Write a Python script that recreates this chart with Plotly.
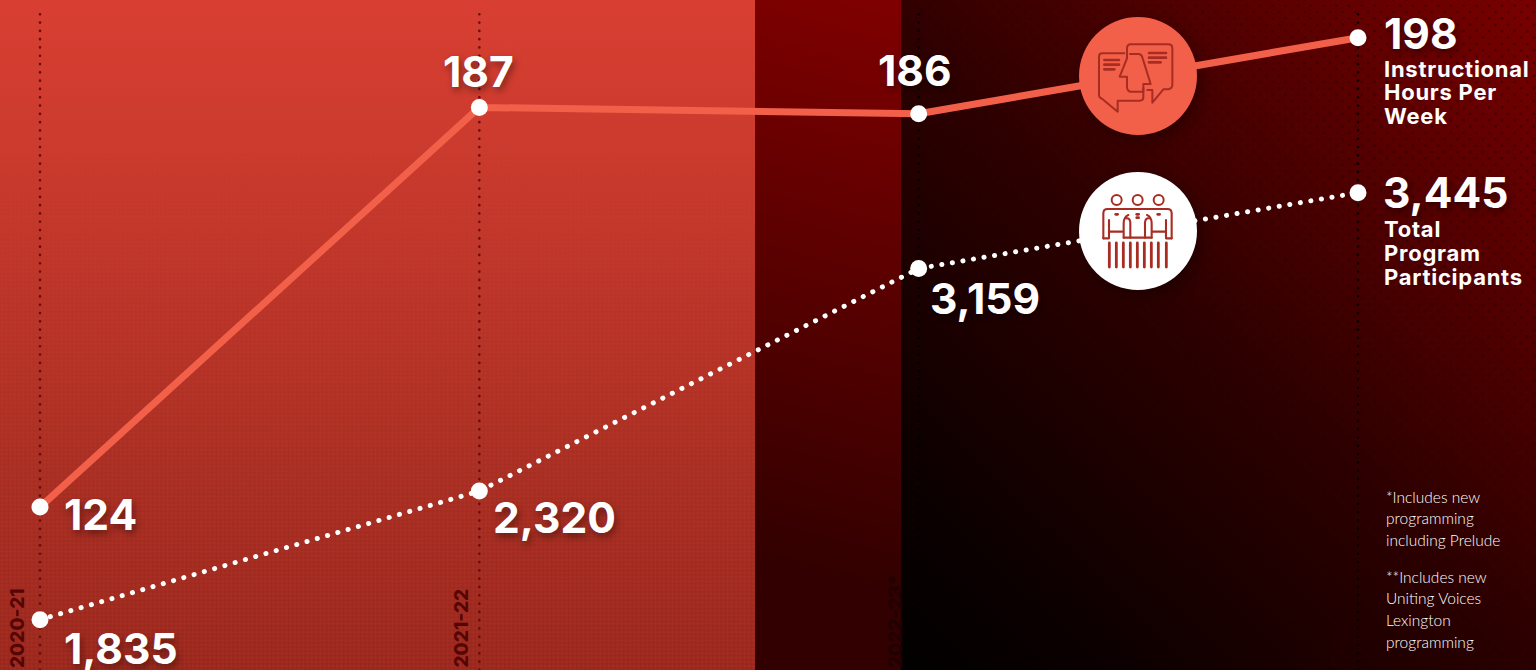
import base64
import plotly.graph_objects as go

# ---- data ----
years = ["2020-21", "2021-22", "2022-23*", "2023-24"]
hours = [124, 187, 186, 198]
participants = [1835, 2320, 3159, 3445]
hours_text = ["124", "187", "186", "198"]
participants_text = ["1,835", "2,320", "3,159", "3,445"]
hours_caption = ["Instructional", "Hours Per", "Week"]
participants_caption = ["Total", "Program", "Participants"]
note_a = ["*Includes new", "programming", "including Prelude"]
note_b = ["**Includes new", "Uniting Voices", "Lexington", "programming"]

W, H = 1536, 670
FONT = "Inter"
LINE = "#F2604A"
ICON = "#A82C22"


def px(x):
    return x / W


def py(y):
    return 1 - y / H


def path(cmds, ox, oy):
    """Icon outlines: 3x-zoom units around an origin -> paper coords."""
    out = []
    for t in cmds.split():
        if t[0].isalpha():
            out.append(t[0])
            t = t[1:]
            if not t:
                continue
        a, b = t.split(",")
        out.append(f"{px(ox + float(a) / 3):.5f},{py(oy + float(b) / 3):.5f}")
    return " ".join(out)


bg = f"""<svg xmlns='http://www.w3.org/2000/svg' width='{W}' height='{H}' viewBox='0 0 {W} {H}'>
<defs>
<linearGradient id='l' x1='0' y1='0' x2='0' y2='1'><stop offset='0' stop-color='#D83F32'/><stop offset='.7' stop-color='#AF3125'/><stop offset='1' stop-color='#A32B20'/></linearGradient>
<linearGradient id='m' gradientUnits='userSpaceOnUse' x1='755' y1='560' x2='900' y2='0'><stop offset='0' stop-color='#320000'/><stop offset='1' stop-color='#800000'/></linearGradient>
<linearGradient id='r' gradientUnits='userSpaceOnUse' x1='901' y1='670' x2='1536' y2='0'><stop offset='0' stop-color='#020000'/><stop offset='.15' stop-color='#0B0000'/><stop offset='.5' stop-color='#2E0000'/><stop offset='1' stop-color='#7A0000'/></linearGradient>
<linearGradient id='f' x1='0' y1='1' x2='1' y2='0'><stop offset='.3' stop-color='#fff' stop-opacity='0'/><stop offset='1' stop-color='#fff' stop-opacity='1'/></linearGradient>
<linearGradient id='f2' x1='0' y1='0' x2='0' y2='1'><stop offset='.2' stop-color='#fff' stop-opacity='0'/><stop offset='1' stop-color='#fff' stop-opacity='1'/></linearGradient>
<mask id='mr'><rect x='901' y='0' width='635' height='670' fill='url(#f)'/></mask>
<mask id='ml'><rect x='0' y='0' width='755' height='670' fill='url(#f2)'/></mask>
<pattern id='dots' width='9' height='9' patternUnits='userSpaceOnUse' patternTransform='rotate(45)'><circle cx='4' cy='4' r='1.3' fill='#000' fill-opacity='.4'/></pattern>
<pattern id='hatch' width='6' height='6' patternUnits='userSpaceOnUse' patternTransform='rotate(45)'><rect width='3' height='3' fill='#000' fill-opacity='.07'/><rect x='3' y='3' width='3' height='3' fill='#000' fill-opacity='.07'/></pattern>
<filter id='b' x='-30%' y='-30%' width='160%' height='160%'><feGaussianBlur stdDeviation='8'/></filter>
</defs>
<rect x='0' y='0' width='756' height='670' fill='url(#l)'/>
<rect x='755' y='0' width='147' height='670' fill='url(#m)'/>
<rect x='901' y='0' width='635' height='670' fill='url(#r)'/>
<rect x='0' y='0' width='755' height='670' fill='url(#hatch)' mask='url(#ml)'/>
<rect x='901' y='0' width='635' height='670' fill='url(#dots)' mask='url(#mr)'/>
<circle cx='1143' cy='81' r='59' fill='#000' fill-opacity='.35' filter='url(#b)'/>
<circle cx='1143' cy='236' r='59' fill='#000' fill-opacity='.35' filter='url(#b)'/>
</svg>"""
bg_uri = "data:image/svg+xml;base64," + base64.b64encode(bg.encode()).decode()

fig = go.Figure()
fig.add_trace(go.Scatter(
    x=list(range(len(years))), y=hours, mode="lines+markers", yaxis="y",
    line=dict(color=LINE, width=7), marker=dict(color="white", size=17),
    hoverinfo="skip", showlegend=False))
fig.add_trace(go.Scatter(
    x=list(range(len(years))), y=participants, mode="lines+markers", yaxis="y2",
    line=dict(color="white", width=5, dash="0.1px,10.6px"),
    marker=dict(color="white", size=17),
    hoverinfo="skip", showlegend=False))

shapes = []
# year guide lines
guide_colors = ["#6A0C0C", "#6A0C0C", "#000000", "#0A0000"]
for i, c in enumerate(guide_colors):
    shapes.append(dict(type="line", xref="x", yref="paper", x0=i, x1=i, y0=0, y1=py(10),
                       layer="below", line=dict(color=c, width=2.6, dash="0.1px,8.2px")))

# icon discs
for cy, col in ((76, LINE), (231, "#FFFFFF")):
    shapes.append(dict(type="circle", xref="paper", yref="paper", layer="above",
                       x0=px(1138 - 59), x1=px(1138 + 59), y0=py(cy + 59), y1=py(cy - 59),
                       fillcolor=col, line=dict(width=0)))


def stroke(d, ox, oy, w):
    shapes.append(dict(type="path", xref="paper", yref="paper", layer="above",
                       path=path(d, ox, oy), line=dict(color=ICON, width=w)))


# speech / face icon
ox, oy = 1095, 35
for d in [
    "M88,55 L22,55 Q12,55 12,65 L12,180 Q12,188 22,192 L68,230 L68,197 L135,197 Q145,197 145,187 L145,160",
    "M96,70 L96,40 Q96,28 108,28 L220,28 Q232,28 232,40 L232,150 Q232,160 220,163 L205,163 L172,203 L172,165 L157,165",
    "M96,70 L74,125 L96,125 L96,155 Q96,170 110,170 L145,170 L145,147 L167,147 L143,70 Q140,57 130,57 L105,57",
]:
    stroke(d, ox, oy, 2)
for d in ["M28,75 L72,75", "M28,89 L72,89", "M28,103 L58,103",
          "M162,54 L213,54", "M162,68 L213,68", "M162,82 L197,82"]:
    stroke(d, ox, oy, 2.6)

# three people icon
ox, oy = 1095, 185
for cx in (65, 128, 191):
    shapes.append(dict(type="circle", xref="paper", yref="paper", layer="above",
                       x0=px(ox + (cx - 15) / 3), x1=px(ox + (cx + 15) / 3),
                       y0=py(oy + (45 + 15) / 3), y1=py(oy + (45 - 15) / 3),
                       line=dict(color=ICON, width=2)))
for d in [
    "M25,160 L25,85 Q25,72 38,72 L217,72 Q230,72 230,85 L230,160",
    "M25,160 L42,160 L42,105", "M230,160 L213,160 L213,105",
    "M42,140 L82,140", "M213,140 L172,140",
    "M100,90 Q86,96 86,115 L86,158", "M94,100 Q104,98 106,112 L106,158",
    "M156,90 Q170,96 170,115 L170,158", "M162,100 Q152,98 150,112 L150,158",
    "M86,158 L170,158",
]:
    stroke(d, ox, oy, 2.1)
for bx in (43, 64, 85, 106, 127, 148, 169, 190, 214):
    stroke(f"M{bx},174 L{bx},246", ox, oy, 2.8)
for sx, sy in ((65, 88), (128, 88), (128, 98), (191, 88)):
    stroke(f"M{sx - 3},{sy} L{sx + 3},{sy}", ox, oy, 2.6)

SHADOW = "2px 4px 7px rgba(0,0,0,0.4)"
ann = []


def value_label(text, i, v, yref, dx, dy, anchor):
    ann.append(dict(text=text, xref="x", yref=yref, x=i, y=v, xshift=dx, yshift=-dy,
                    xanchor=anchor, yanchor="middle", showarrow=False,
                    font=dict(family=FONT, size=42.5, color="white", weight=700, shadow=SHADOW)))


value_label(hours_text[0], 0, hours[0], "y", 22, 7, "left")
value_label(hours_text[1], 1, hours[1], "y", -1, -36, "center")
value_label(hours_text[2], 2, hours[2], "y", -3.5, -43, "center")
value_label(hours_text[3], 3, hours[3], "y", 24, -4, "left")
value_label(participants_text[0], 0, participants[0], "y2", 22, 29, "left")
value_label(participants_text[1], 1, participants[1], "y2", 12, 26, "left")
value_label(participants_text[2], 2, participants[2], "y2", 9, 30, "left")
value_label(participants_text[3], 3, participants[3], "y2", 23, 0, "left")


def pixel_text(text, x, y, size, weight, color="white", family=FONT):
    ann.append(dict(text=text, xref="paper", yref="paper", x=px(x), y=py(y),
                    xanchor="left", yanchor="middle", align="left", showarrow=False,
                    font=dict(family=family, size=size, color=color, weight=weight)))


for t, y in zip(hours_caption, (69, 92, 116)):
    pixel_text(t, 1382, y, 22, 700)
for t, y in zip(participants_caption, (229, 253, 277)):
    pixel_text(t, 1382, y, 22, 700)
for t, y in zip(note_a, (497, 518, 540)):
    pixel_text(t, 1384, y, 15.5, 300, "#FFFFFF", "Lato")
for t, y in zip(note_b, (577, 598, 620, 642)):
    pixel_text(t, 1384, y, 15.5, 300, "#FFFFFF", "Lato")

year_colors = ["#560505", "#560505", "#200000", "#220000"]
year_x = [17, 461, 895, 1338]
for t, x, c in zip(years, year_x, year_colors):
    ann.append(dict(text=t, xref="paper", yref="paper", x=px(x), y=0.0, textangle=-90,
                    xanchor="center", yanchor="bottom", showarrow=False,
                    font=dict(family=FONT, size=19, color=c, weight=800)))

axis_off = dict(visible=False, fixedrange=True)
fig.update_layout(
    width=W, height=H, margin=dict(l=0, r=0, t=0, b=0),
    paper_bgcolor="#000000", plot_bgcolor="rgba(0,0,0,0)", showlegend=False,
    xaxis=dict(range=[-40 / 439.33, (W - 40) / 439.33], **axis_off),
    yaxis=dict(range=[98.31, 203.94], **axis_off),
    yaxis2=dict(range=[1645.3, 4171.6], overlaying="y", **axis_off),
    images=[dict(source=bg_uri, xref="paper", yref="paper", x=0, y=1, sizex=1, sizey=1,
                 xanchor="left", yanchor="top", sizing="stretch", layer="below")],
    shapes=shapes, annotations=ann,
)

post = """
document.documentElement.style.margin='0';
document.body.style.margin='0';
document.body.style.overflow='hidden';
document.body.style.background='#000';
document.querySelectorAll('.scatterlayer .js-line, .shapelayer path').forEach(function(p){
  p.style.strokeLinecap='round'; p.style.strokeLinejoin='round';
});
document.querySelectorAll('.annotation-text').forEach(function(t){
  if (parseFloat(t.style.fontSize) === 22) { t.style.letterSpacing='0.75px'; }
});
"""
fig.write_html("out.html", post_script=post, config=dict(displayModeBar=False))
